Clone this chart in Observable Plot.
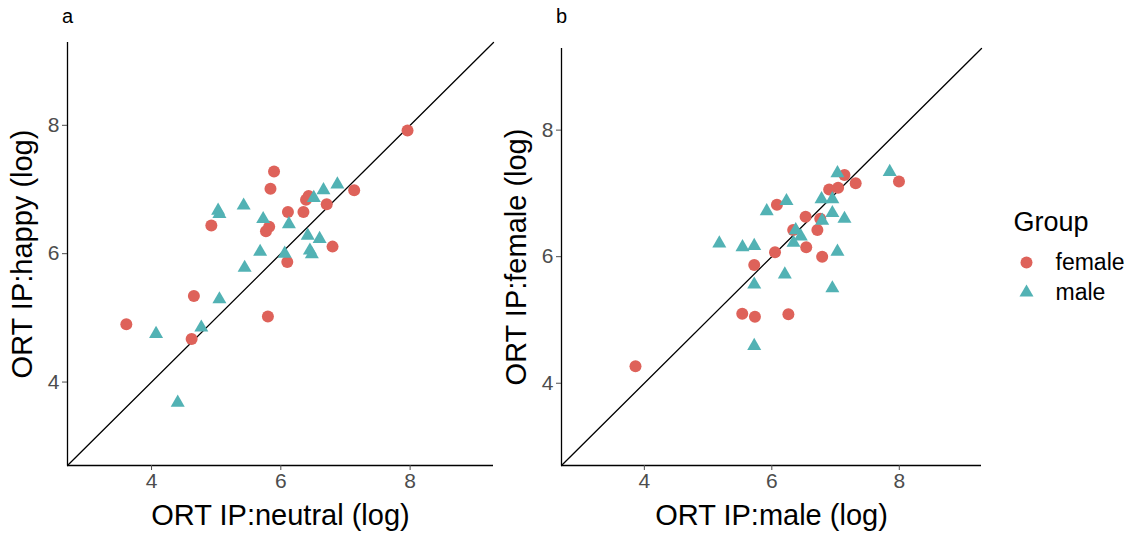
<!DOCTYPE html>
<html>
<head>
<meta charset="utf-8">
<script src="https://cdn.jsdelivr.net/npm/d3@7"></script>
<script src="https://cdn.jsdelivr.net/npm/@observablehq/plot@0.6"></script>
<style>
  body { margin: 0; background: white; }
  #root { position: relative; width: 1129px; height: 533px; background: white; overflow: hidden; }
  #root > div { position: absolute; top: 0; }
  svg { overflow: visible; }
</style>
</head>
<body>
<div id="root">
  <div id="pa" style="left:0px;"></div>
  <div id="pb" style="left:480px;"></div>
  <div id="lg" style="left:990px; top:180px;"></div>
</div>
<script>
// ---- data ----
const groups = ["female", "male"];
const groupColors = ["#DE625A", "#52B2B4"];
const groupSymbols = ["circle", "triangle"];
const tickValues = [4, 6, 8];
const axisRange = [2.7, 9.29];

// panel a: x = ORT IP:neutral (log), y = ORT IP:happy (log)
const aFemale = [[7.96,7.92],[5.895,7.28],[5.84,7.01],[7.135,6.99],[6.43,6.90],[6.39,6.84],[6.71,6.77],[6.11,6.65],[6.35,6.65],[4.925,6.44],[5.82,6.42],[5.77,6.35],[6.80,6.11],[6.10,5.87],[4.655,5.34],[5.80,5.02],[3.61,4.90],[4.62,4.67]];
const aMale = [[6.875,7.08],[6.66,6.99],[6.51,6.87],[5.03,6.67],[5.05,6.62],[5.425,6.75],[5.727,6.54],[6.125,6.46],[6.416,6.28],[6.60,6.23],[5.68,6.03],[6.06,6.0],[6.45,6.05],[6.48,5.99],[5.44,5.78],[5.05,5.29],[4.77,4.85],[4.07,4.75],[4.405,3.68]];

// panel b: x = ORT IP:male (log), y = ORT IP:female (log)
const bFemale = [[7.995,7.19],[7.316,7.16],[7.14,7.29],[7.04,7.09],[6.90,7.06],[6.08,6.82],[6.53,6.63],[6.76,6.60],[6.335,6.42],[6.715,6.42],[6.54,6.15],[6.05,6.07],[6.79,6.0],[5.724,5.87],[5.536,5.10],[5.735,5.05],[6.26,5.09],[3.861,4.27]];
const bMale = [[7.85,7.34],[7.03,7.32],[6.78,6.91],[6.95,6.91],[6.23,6.88],[5.92,6.72],[6.95,6.69],[7.14,6.60],[6.79,6.57],[6.375,6.42],[6.455,6.32],[6.34,6.22],[5.176,6.21],[5.54,6.15],[5.724,6.17],[7.03,6.08],[6.204,5.72],[5.724,5.56],[6.95,5.50],[5.724,4.59]];

const FONT = "'Liberation Sans', Arial, Helvetica, sans-serif";

function panel({tag, xLabel, yLabel, female, male, width, marginLeft, marginTop}) {
  return Plot.plot({
    width, height: 533,
    marginLeft, marginRight: 20, marginTop, marginBottom: 68,
    x: {domain: axisRange},
    y: {domain: axisRange},
    color: {domain: groups, range: groupColors},
    symbol: {domain: groups, range: groupSymbols},
    style: {fontFamily: FONT, fontSize: "21px", background: "transparent", overflow: "visible"},
    marks: [
      Plot.line(axisRange, {x: d => d, y: d => d, stroke: "black", strokeWidth: 1.3}),
      Plot.ruleX([axisRange[0]], {stroke: "black", strokeWidth: 1.3}),
      Plot.ruleY([axisRange[0]], {stroke: "black", strokeWidth: 1.3}),
      Plot.axisX({ticks: tickValues, tickFormat: d => String(d), tickSize: 5, tickPadding: 3, color: "#4d4d4d", label: null, fontSize: 21}),
      Plot.axisY({ticks: tickValues, tickFormat: d => String(d), tickSize: 5, tickPadding: 3, color: "#4d4d4d", label: null, fontSize: 21}),
      Plot.dot(female, {x: d => d[0], y: d => d[1], fill: () => groups[0], symbol: () => groups[0], r: 6}),
      Plot.dot(male, {x: d => d[0], y: d => d[1], fill: () => groups[1], symbol: () => groups[1], r: 5.2}),
      Plot.text([xLabel], {frameAnchor: "bottom", dy: 50, fontSize: 29, fill: "black", textAnchor: "middle", lineAnchor: "middle"}),
      Plot.text([yLabel], {frameAnchor: "left", dx: -45, rotate: -90, fontSize: 29, fill: "black", textAnchor: "middle", lineAnchor: "middle"}),
      Plot.text([tag], {frameAnchor: "top-left", dy: 16 - marginTop, fontSize: 20, fill: "black", textAnchor: "middle", lineAnchor: "middle"})
    ]
  });
}

document.getElementById("pa").append(panel({
  tag: "a", xLabel: "ORT IP:neutral (log)", yLabel: "ORT IP:happy (log)",
  female: aFemale, male: aMale, width: 513, marginLeft: 67, marginTop: 42
}));
document.getElementById("pb").append(panel({
  tag: "b", xLabel: "ORT IP:male (log)", yLabel: "ORT IP:female (log)",
  female: bFemale, male: bMale, width: 521, marginLeft: 81, marginTop: 48
}));

// legend
const legend = Plot.plot({
  width: 139, height: 130, margin: 0,
  y: {type: "point", domain: groups, range: [82, 112], padding: 0, axis: null},
  color: {domain: groups, range: groupColors},
  symbol: {domain: groups, range: groupSymbols},
  style: {fontFamily: FONT, background: "transparent", overflow: "visible"},
  marks: [
    Plot.text(["Group"], {frameAnchor: "top-left", dx: 23, dy: 42, fontSize: 27, fill: "black", textAnchor: "start", lineAnchor: "middle"}),
    Plot.dot([groups[0]], {y: d => d, fill: d => d, symbol: d => d, r: 6, frameAnchor: "left", dx: 36}),
    Plot.dot([groups[1]], {y: d => d, fill: d => d, symbol: d => d, r: 5.2, frameAnchor: "left", dx: 36}),
    Plot.text(groups, {y: d => d, text: d => d, frameAnchor: "left", dx: 65, fontSize: 23, fill: "black", textAnchor: "start", lineAnchor: "middle"})
  ]
});
document.getElementById("lg").append(legend);
</script>
</body>
</html>
